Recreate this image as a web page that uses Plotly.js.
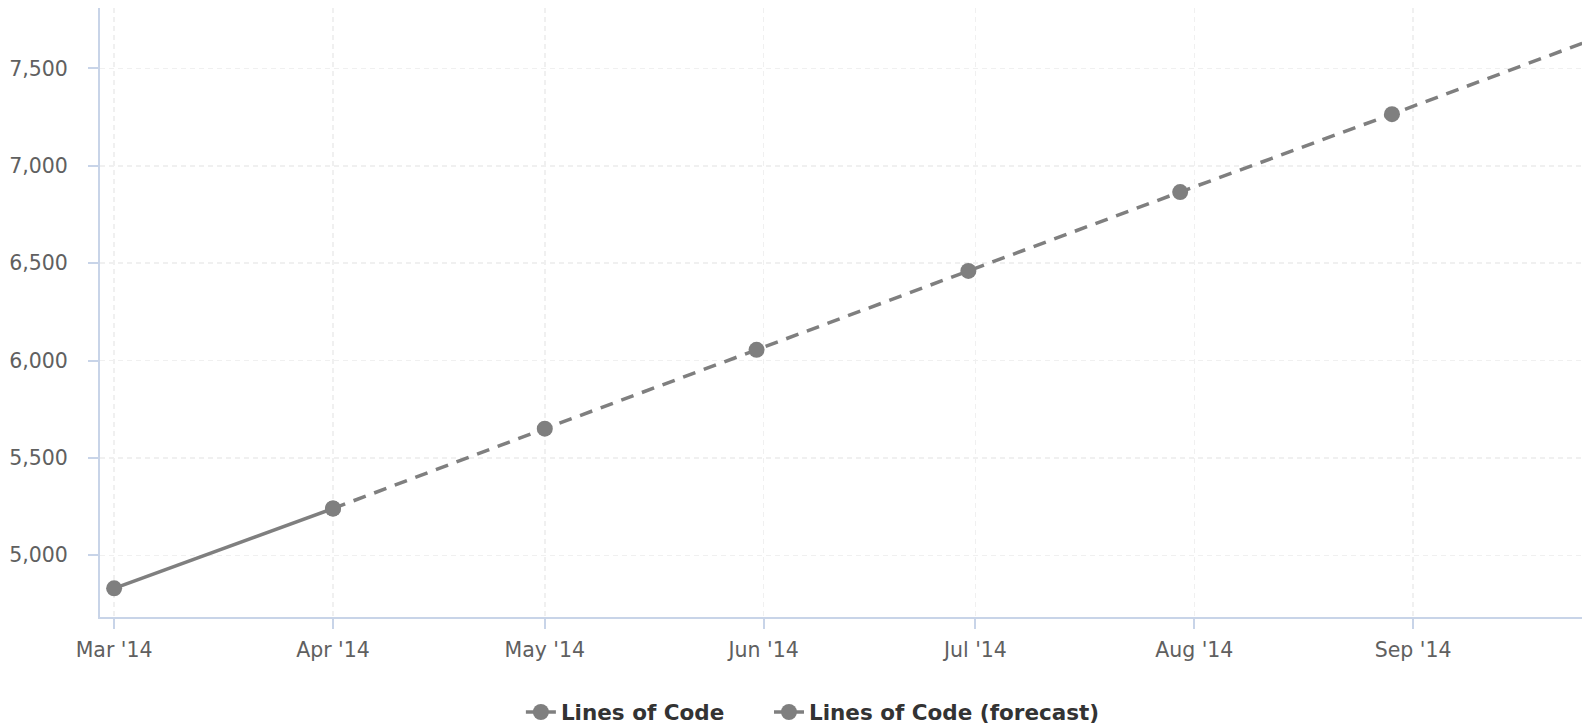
<!DOCTYPE html>
<html>
<head>
<meta charset="utf-8">
<script src="https://cdn.plot.ly/plotly-3.0.1.min.js"></script>
<style>
  html, body { margin: 0; padding: 0; background: #ffffff; }
  #chart { width: 1582px; height: 727px; }
</style>
</head>
<body>
<div id="chart"></div>
<script>
// ---- data ----
var actualDates = ['2014-03-01', '2014-04-01'];
var actualValues = [4830, 5240];

var forecastDates = ['2014-04-01', '2014-05-01', '2014-05-31', '2014-06-30', '2014-07-30', '2014-08-29', '2014-09-28', '2014-10-28'];
var forecastValues = [5240, 5650, 6055, 6460, 6865, 7265, 7670, 8075];

var xTickVals = ['2014-03-01', '2014-04-01', '2014-05-01', '2014-06-01', '2014-07-01', '2014-08-01', '2014-09-01'];
var xTickText = ["Mar '14", "Apr '14", "May '14", "Jun '14", "Jul '14", "Aug '14", "Sep '14"];

var yTickVals = [5000, 5500, 6000, 6500, 7000, 7500];
var yTickText = ['5,000', '5,500', '6,000', '6,500', '7,000', '7,500'];

var seriesNames = ['Lines of Code', 'Lines of Code (forecast)'];

// ---- styles ----
var lineColor = '#7f7f7f';
var axisColor = '#c8d4e8';
var gridColor = '#f0f0f0';
var tickFont = { family: 'DejaVu Sans, Verdana, sans-serif', size: 20.5, color: '#606060' };
var legendFont = { family: 'DejaVu Sans, Verdana, sans-serif', size: 21.5, color: '#333333', weight: 'bold' };

var traces = [
  {
    x: actualDates, y: actualValues, name: seriesNames[0],
    type: 'scatter', mode: 'lines+markers',
    line: { color: lineColor, width: 3.5 },
    marker: { color: lineColor, size: 16 },
    legend: 'legend'
  },
  {
    x: forecastDates, y: forecastValues, name: seriesNames[1],
    type: 'scatter', mode: 'lines+markers',
    line: { color: lineColor, width: 3.5, dash: '13px,9px' },
    marker: { color: lineColor, size: 16 },
    legend: 'legend2'
  }
];

var layout = {
  width: 1582, height: 727,
  paper_bgcolor: '#ffffff', plot_bgcolor: '#ffffff',
  margin: { l: 100, r: 0, t: 8, b: 110, pad: 0, autoexpand: false },
  showlegend: true,
  hovermode: false,
  xaxis: {
    type: 'date',
    range: ['2014-02-27', '2014-09-24 22:00'],
    tickvals: xTickVals, ticktext: xTickText,
    showline: true, linecolor: axisColor, linewidth: 2,
    ticks: 'outside', ticklen: 10, tickcolor: axisColor, tickwidth: 2,
    showgrid: true, gridcolor: gridColor, griddash: '5px,4px', gridwidth: 1.5,
    zeroline: false,
    tickfont: tickFont,
    ticklabelstandoff: 3
  },
  yaxis: {
    range: [4683, 7810],
    tickvals: yTickVals, ticktext: yTickText,
    showline: true, linecolor: axisColor, linewidth: 2,
    ticks: 'outside', ticklen: 10, tickcolor: axisColor, tickwidth: 2,
    showgrid: true, gridcolor: gridColor, griddash: '5px,4px', gridwidth: 1.5,
    zeroline: false,
    tickfont: tickFont,
    ticklabelstandoff: 16
  },
  legend: {
    orientation: 'h',
    x: 0.284, xanchor: 'left',
    y: -0.156, yanchor: 'middle',
    font: legendFont,
    itemclick: false, itemdoubleclick: false
  },
  legend2: {
    orientation: 'h',
    x: 0.4514, xanchor: 'left',
    y: -0.156, yanchor: 'middle',
    font: legendFont,
    itemclick: false, itemdoubleclick: false
  }
};

Plotly.newPlot('chart', traces, layout, { displayModeBar: false, staticPlot: true });
</script>
</body>
</html>
